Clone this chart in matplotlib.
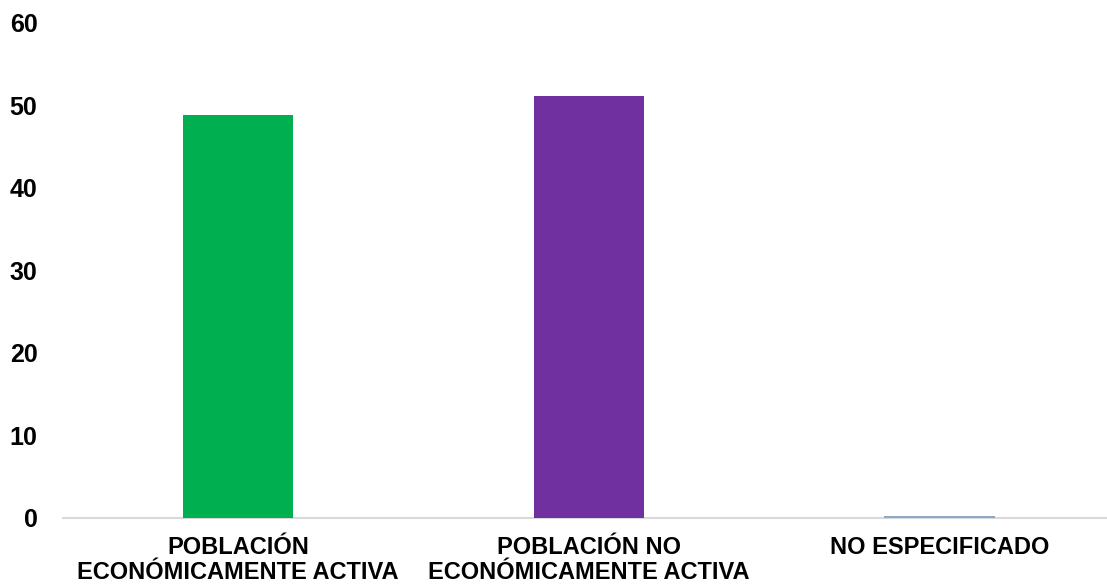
import matplotlib
matplotlib.use("Agg")
import matplotlib.pyplot as plt

categories = ["POBLACIÓN\nECONÓMICAMENTE ACTIVA",
              "POBLACIÓN NO\nECONÓMICAMENTE ACTIVA",
              "NO ESPECIFICADO"]
values = [48.8, 51.1, 0.15]
colors = ["#00B050", "#7030A0", "#8EA9C8"]
yticks = [0, 10, 20, 30, 40, 50, 60]

plt.rcParams["font.family"] = ["Liberation Sans", "DejaVu Sans"]
plt.rcParams["font.weight"] = "bold"

fig = plt.figure(figsize=(11.07, 5.85), dpi=100)
ax = fig.add_axes([62.5 / 1107, 67.5 / 585, 1 - 62.5 / 1107, (562 - 67.5) / 585])

x = range(len(categories))
ax.bar(x, values, width=0.316, color=colors, zorder=3)

ax.set_ylim(0, 60)
ax.set_xlim(-0.5, 2.476)
ax.set_yticks(yticks)
ax.set_xticks(list(x))
ax.set_xticklabels(categories, fontsize=17, fontweight="bold", linespacing=1.15)
ax.tick_params(axis="y", length=0, pad=18, labelsize=18)
ax.tick_params(axis="x", length=0, pad=13)
for lbl in ax.get_yticklabels():
    lbl.set_fontweight("bold")

for s in ["top", "right", "left"]:
    ax.spines[s].set_visible(False)
ax.spines["bottom"].set_color("#D9D9D9")
ax.spines["bottom"].set_linewidth(1.5)

fig.savefig("out.png", dpi=100)
